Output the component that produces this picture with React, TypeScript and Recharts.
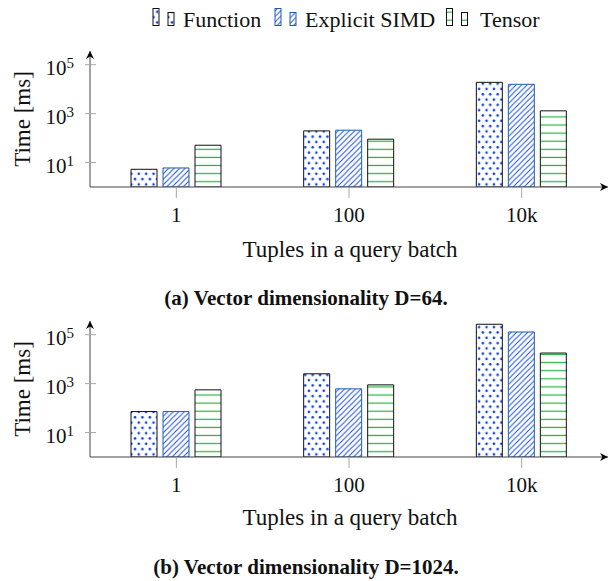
import React from 'react';
import { BarChart, Bar, XAxis, YAxis } from 'recharts';

const categories = ['1', '100', '10k'];
const functionD64 = [5.3, 197, 19000];
const simdD64 = [6.0, 210, 15800];
const tensorD64 = [51, 90, 1300];
const functionD1024 = [72, 2520, 267000];
const simdD1024 = [72, 612, 129000];
const tensorD1024 = [557, 890, 17800];
const yTicks = [10, 1000, 100000];
const seriesNames = ['Function', 'Explicit SIMD', 'Tensor'];
const captions = ['(a) Vector dimensionality D=64.', '(b) Vector dimensionality D=1024.'];
const xLabel = 'Tuples in a query batch';
const yLabel = 'Time [ms]';

const FONT = "'Liberation Serif', 'Times New Roman', serif";
const Y_MAX = Math.pow(10, 5.56);

const buildData = (f: number[], s: number[], t: number[]) =>
  categories.map((c, i) => ({ cat: c, f: f[i], s: s[i], t: t[i] }));

const dataA = buildData(functionD64, simdD64, tensorD64);
const dataB = buildData(functionD1024, simdD1024, tensorD1024);

const XTick = (props: any) => {
  const { x, y, payload } = props;
  return (
    <g>
      <line x1={x} y1={y + 1} x2={x} y2={y + 11} stroke="#a8a8a8" strokeWidth={1} />
      <text x={x} y={y + 35} textAnchor="middle" fontSize={21} fontFamily={FONT} fill="#111">
        {payload.value}
      </text>
    </g>
  );
};

const YTick = (props: any) => {
  const { x, y, payload } = props;
  const exp = Math.round(Math.log10(payload.value));
  return (
    <g>
      <line x1={x - 5} y1={y} x2={x + 6} y2={y} stroke="#a8a8a8" strokeWidth={1} />
      <text x={x - 16} y={y + 10} textAnchor="end" fontSize={21} fontFamily={FONT} fill="#111">
        10
        <tspan dy={-7} fontSize={15}>
          {exp}
        </tspan>
      </text>
    </g>
  );
};

const Panel = ({ data }: { data: any[] }) => (
  <BarChart
    width={610}
    height={230}
    data={data}
    margin={{ top: 11, right: 2, bottom: 0, left: 0 }}
    barGap={6}
  >
    <XAxis
      dataKey="cat"
      interval={0}
      height={83}
      tickLine={false}
      tickSize={0}
      tickMargin={0}
      tick={<XTick />}
      axisLine={{ stroke: '#444', strokeWidth: 1, markerEnd: 'url(#arrowHead)' }}
    />
    <YAxis
      type="number"
      scale="log"
      domain={[1, Y_MAX]}
      allowDataOverflow
      ticks={yTicks}
      interval={0}
      width={90}
      tickLine={false}
      tickSize={0}
      tickMargin={0}
      tick={<YTick />}
      axisLine={{ stroke: '#444', strokeWidth: 1, markerStart: 'url(#arrowHead)' }}
    />
    <Bar dataKey="f" name={seriesNames[0]} barSize={26} fill="url(#patDots)" stroke="#111" strokeWidth={1} isAnimationActive={false} />
    <Bar dataKey="s" name={seriesNames[1]} barSize={26} fill="url(#patDiag)" stroke="#1f5fa8" strokeWidth={1} isAnimationActive={false} />
    <Bar dataKey="t" name={seriesNames[2]} barSize={26} fill="url(#patHoriz)" stroke="#111" strokeWidth={1} isAnimationActive={false} />
  </BarChart>
);

const Defs = () => (
  <svg width={0} height={0} style={{ position: 'absolute', left: 0, top: 0 }}>
    <defs>
      <pattern id="patDots" patternUnits="userSpaceOnUse" width={7.4} height={10.6}>
        <rect width={7.4} height={10.6} fill="#fff" />
        <circle cx={1.85} cy={1.3} r={1.3} fill="#0a3de0" />
        <circle cx={5.55} cy={6.6} r={1.3} fill="#0a3de0" />
      </pattern>
      <pattern id="patDiag" patternUnits="userSpaceOnUse" width={5.5} height={5.5}>
        <rect width={5.5} height={5.5} fill="#fff" />
        <path d="M-1,1 L1,-1 M0,5.5 L5.5,0 M4.5,6.5 L6.5,4.5" stroke="#1d4fe0" strokeWidth={1} />
      </pattern>
      <pattern id="patHoriz" patternUnits="userSpaceOnUse" width={10} height={8.1}>
        <rect width={10} height={8.1} fill="#fff" />
        <line x1={0} y1={4} x2={10} y2={4} stroke="#22b33f" strokeWidth={1.2} />
      </pattern>
      <marker
        id="arrowHead"
        viewBox="0 0 10 10"
        refX={10}
        refY={5}
        markerWidth={9}
        markerHeight={8}
        markerUnits="userSpaceOnUse"
        orient="auto-start-reverse"
      >
        <path d="M0,0 L10,5 L0,10 L3,5 z" fill="#000" />
      </marker>
    </defs>
  </svg>
);

const legendItems = [
  { name: seriesNames[0], fill: 'url(#patDots)', stroke: '#111', ix: 153, tx: 183 },
  { name: seriesNames[1], fill: 'url(#patDiag)', stroke: '#1f5fa8', ix: 275, tx: 305 },
  { name: seriesNames[2], fill: 'url(#patHoriz)', stroke: '#111', ix: 446.5, tx: 480 },
];

const Overlay = () => (
  <svg width={610} height={581} style={{ position: 'absolute', left: 0, top: 0, pointerEvents: 'none' }}>
    {legendItems.map((it) => (
      <g key={it.name}>
        <rect x={it.ix} y={8.5} width={6} height={17} fill={it.fill} stroke={it.stroke} strokeWidth={1} />
        <rect x={it.ix + 15} y={12.5} width={6} height={13} fill={it.fill} stroke={it.stroke} strokeWidth={1} />
        <text x={it.tx} y={27} fontSize={22} fontFamily={FONT} fill="#111">
          {it.name}
        </text>
      </g>
    ))}
    {[0, 270].map((dy, i) => (
      <g key={i}>
        <text
          x={30}
          y={119 + dy}
          fontSize={23}
          fontFamily={FONT}
          fill="#111"
          textAnchor="middle"
          transform={`rotate(-90, 30, ${119 + dy})`}
        >
          {yLabel}
        </text>
        <text x={350} y={256.5 + dy - (i ? 1.5 : 0)} fontSize={23} fontFamily={FONT} fill="#111" textAnchor="middle">
          {xLabel}
        </text>
        <text
          x={306}
          y={305 + dy - (i ? 1.5 : 0)}
          fontSize={21}
          fontWeight="bold"
          fontFamily={FONT}
          fill="#111"
          textAnchor="middle"
        >
          {captions[i]}
        </text>
      </g>
    ))}
  </svg>
);

export default function App() {
  return (
    <div style={{ position: 'absolute', left: 0, top: 0, width: 610, height: 581, background: '#fff', overflow: 'hidden' }}>
      <Defs />
      <div style={{ position: 'absolute', left: 0, top: 40 }}>
        <Panel data={dataA} />
      </div>
      <div style={{ position: 'absolute', left: 0, top: 310 }}>
        <Panel data={dataB} />
      </div>
      <Overlay />
    </div>
  );
}
